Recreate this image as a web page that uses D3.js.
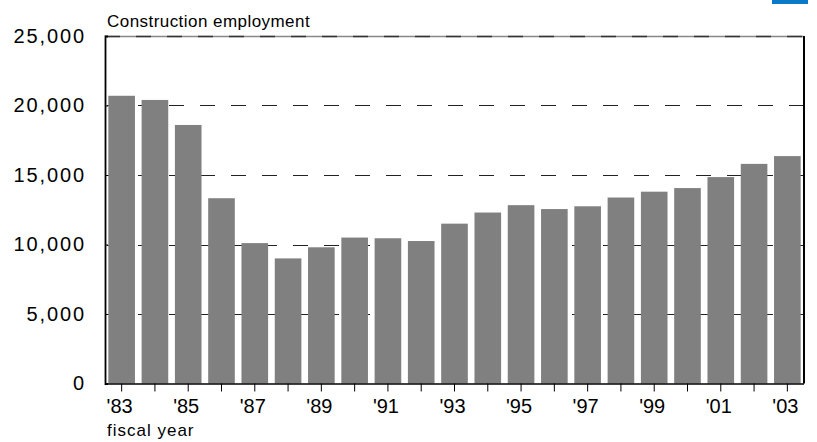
<!DOCTYPE html>
<html>
<head>
<meta charset="utf-8">
<script src="https://cdn.jsdelivr.net/npm/d3@7"></script>
<style>
  html, body { margin: 0; padding: 0; background: #fff; }
  svg { display: block; }
  text { font-family: "Liberation Sans", Arial, sans-serif; fill: #000; }
</style>
</head>
<body>
<svg id="chart" width="817" height="442"></svg>
<script>
const years = ["'83","'84","'85","'86","'87","'88","'89","'90","'91","'92","'93","'94","'95","'96","'97","'98","'99","'00","'01","'02","'03"];
const employment = [20700, 20400, 18600, 13330, 10100, 9000, 9800, 10500, 10450, 10250, 11500, 12300, 12830, 12550, 12750, 13380, 13800, 14060, 14850, 15800, 16360];
const yTicks = [0, 5000, 10000, 15000, 20000, 25000];
const xTickLabels = ["'83","'85","'87","'89","'91","'93","'95","'97","'99","'01","'03"];
const title = "Construction employment";
const xTitle = "fiscal year";

const svg = d3.select("#chart");
const L = 105, R = 804, T = 36, B = 383.5;

const x = d3.scaleBand().domain(years).range([L, R]).paddingInner(0.2).paddingOuter(0.1);
const y = d3.scaleLinear().domain([0, 25000]).range([B, T]);

// blue corner mark
svg.append("rect").attr("x", 772).attr("y", 0).attr("width", 36).attr("height", 4).attr("fill", "#0b7ac6");

// gridlines (dashed)
svg.append("g").selectAll("line").data(yTicks.filter(d => d > 0 && d < 25000)).join("line")
  .attr("x1", L).attr("x2", R)
  .attr("y1", d => Math.round(y(d)) + 0.5).attr("y2", d => Math.round(y(d)) + 0.5)
  .attr("stroke", "#222").attr("stroke-width", 1.2)
  .attr("stroke-dasharray", "15,16").attr("stroke-dashoffset", -2);

// top border dashed alternate
svg.append("line").attr("x1", L).attr("x2", R).attr("y1", T + 0.5).attr("y2", T + 0.5)
  .attr("stroke", "#888").attr("stroke-width", 1.5);
svg.append("line").attr("x1", L).attr("x2", R).attr("y1", T + 0.5).attr("y2", T + 0.5)
  .attr("stroke", "#333").attr("stroke-width", 1.5).attr("stroke-dasharray", "15,16");

// bars
svg.append("g").selectAll("rect").data(employment).join("rect")
  .attr("x", (d, i) => x(years[i]))
  .attr("width", x.bandwidth())
  .attr("y", d => y(d))
  .attr("height", d => B - y(d))
  .attr("fill", "#808080");

// right border
svg.append("line").attr("x1", R).attr("x2", R).attr("y1", T).attr("y2", B)
  .attr("stroke", "#000").attr("stroke-width", 2);

// y axis
const yAxis = d3.axisLeft(y).tickValues(yTicks).tickSize(-3).tickPadding(19)
  .tickFormat(d3.format(","));
const gy = svg.append("g").attr("transform", `translate(${L},0)`).call(yAxis);
gy.select(".domain").attr("stroke", "#000").attr("stroke-width", 1.8);
gy.selectAll(".tick line").attr("stroke", "#000");
gy.selectAll("text").attr("font-size", "20px").attr("letter-spacing", "1.9px")
  .attr("fill", "#000").attr("font-family", "Liberation Sans, Arial, sans-serif");

// x axis
const xAxis = d3.axisBottom(x).tickSize(8).tickPadding(7)
  .tickFormat(d => xTickLabels.includes(d) ? d : "");
const gx = svg.append("g").attr("transform", `translate(0,${B})`).call(xAxis);
gx.select(".domain").attr("stroke", "#000").attr("stroke-width", 1.5).attr("d", `M${L},0.5H${R}`);
gx.selectAll(".tick line").attr("stroke", "#000");
gx.selectAll("text").attr("font-size", "20px").attr("dx", "-2")
  .attr("fill", "#000").attr("font-family", "Liberation Sans, Arial, sans-serif");

// titles
svg.append("text").attr("x", 107).attr("y", 27).attr("font-size", "17px")
  .attr("letter-spacing", "0.45px").text(title);
svg.append("text").attr("x", 107).attr("y", 436).attr("font-size", "17px")
  .attr("letter-spacing", "1px").text(xTitle);
</script>
</body>
</html>
